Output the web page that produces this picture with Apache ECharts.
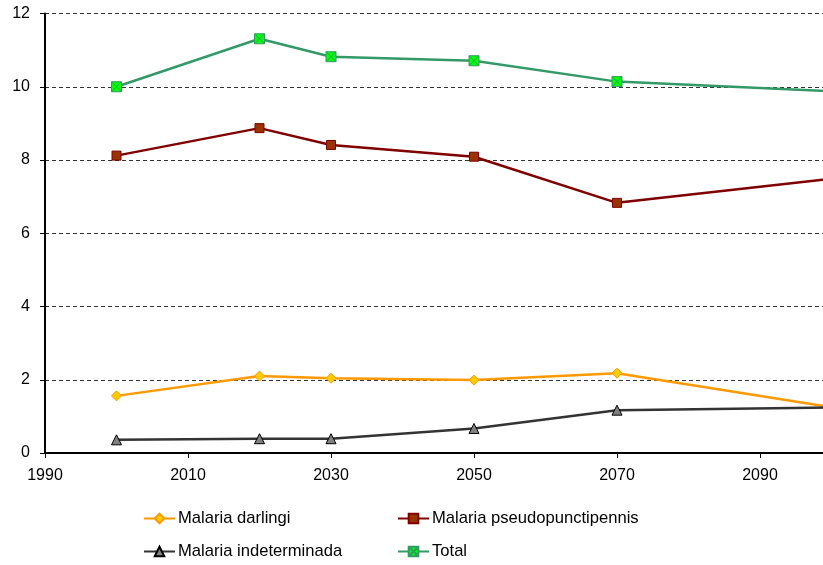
<!DOCTYPE html>
<html>
<head>
<meta charset="utf-8">
<script src="https://cdn.jsdelivr.net/npm/echarts@6/dist/echarts.min.js"></script>
<style>
  html, body { margin: 0; padding: 0; background: #fff; overflow: hidden; }
  #chart { width: 960px; height: 565px; }
</style>
</head>
<body>
<div id="chart"></div>
<script>
// Years of the observations
const years = [2000, 2020, 2030, 2050, 2070, 2100];

// Series values per year
const darlingi = [1.56, 2.10, 2.04, 1.99, 2.18, 1.25];
const pseudopunctipennis = [8.12, 8.87, 8.41, 8.09, 6.83, 7.49];
const indeterminada = [0.36, 0.39, 0.39, 0.67, 1.17, 1.24];
const total = [10.0, 11.31, 10.82, 10.71, 10.14, 9.88];

const seriesNames = ['Malaria darlingi', 'Malaria pseudopunctipennis', 'Malaria indeterminada', 'Total'];

const FONT = '"Liberation Sans", Arial, sans-serif';

function pairs(values) {
  return years.map((y, i) => [y, values[i]]);
}

// Square with an X drawn by its stroke
const crossSquare = 'path://M0 0 H10 V10 H0 Z M0 0 L10 10 M10 0 L0 10';

const chart = echarts.init(document.getElementById('chart'), null, { renderer: 'canvas' });

function legendAt(name, left, top) {
  return {
    data: [name],
    left: left,
    top: top,
    padding: 0,
    itemWidth: 31,
    itemHeight: 12,
    itemGap: 0,
    textStyle: { fontFamily: FONT, fontSize: 16.6, color: '#000', padding: [0, 0, 0, -2] },
    selectedMode: false
  };
}

chart.setOption({
  animation: false,
  backgroundColor: '#fff',
  grid: { left: 45, right: 57, top: 13.5, bottom: 112 },
  xAxis: {
    type: 'value',
    min: 1990,
    max: 2110,
    interval: 20,
    axisLine: { show: true, lineStyle: { color: '#000', width: 2 } },
    axisTick: { show: true, length: 5, inside: false, lineStyle: { color: '#000', width: 1 } },
    axisLabel: {
      fontFamily: FONT, fontSize: 16, color: '#000', margin: 15,
      formatter: v => String(v)
    },
    splitLine: { show: false }
  },
  yAxis: {
    type: 'value',
    min: 0,
    max: 12,
    interval: 2,
    axisLine: { show: true, lineStyle: { color: '#000', width: 2 } },
    axisTick: { show: true, length: 5, lineStyle: { color: '#000', width: 1 } },
    axisLabel: { fontFamily: FONT, fontSize: 16, color: '#000', margin: 15 },
    splitLine: { show: true, lineStyle: { color: '#333', width: 1, type: [4, 3] } }
  },
  legend: [
    legendAt(seriesNames[0], 143, 510),
    legendAt(seriesNames[1], 397, 510),
    legendAt(seriesNames[2], 143, 543),
    legendAt(seriesNames[3], 397, 543)
  ],
  series: [
    {
      name: seriesNames[0],
      type: 'line',
      data: pairs(darlingi),
      symbol: 'diamond',
      symbolSize: 10,
      lineStyle: { color: '#FF9900', width: 2.5 },
      itemStyle: { color: '#FFCC00', borderColor: '#FF9900', borderWidth: 1 }
    },
    {
      name: seriesNames[1],
      type: 'line',
      data: pairs(pseudopunctipennis),
      symbol: 'rect',
      symbolSize: 9,
      lineStyle: { color: '#800000', width: 2.5 },
      itemStyle: { color: '#993300', borderColor: '#800000', borderWidth: 1 }
    },
    {
      name: seriesNames[2],
      type: 'line',
      data: pairs(indeterminada),
      symbol: 'triangle',
      symbolSize: 10,
      lineStyle: { color: '#333333', width: 2.5 },
      itemStyle: { color: '#808080', borderColor: '#000', borderWidth: 1 }
    },
    {
      name: seriesNames[3],
      type: 'line',
      data: pairs(total),
      symbol: crossSquare,
      symbolSize: 10,
      lineStyle: { color: '#339966', width: 2.5 },
      itemStyle: { color: '#00FF00', borderColor: '#339966', borderWidth: 1 }
    }
  ]
});
</script>
</body>
</html>
